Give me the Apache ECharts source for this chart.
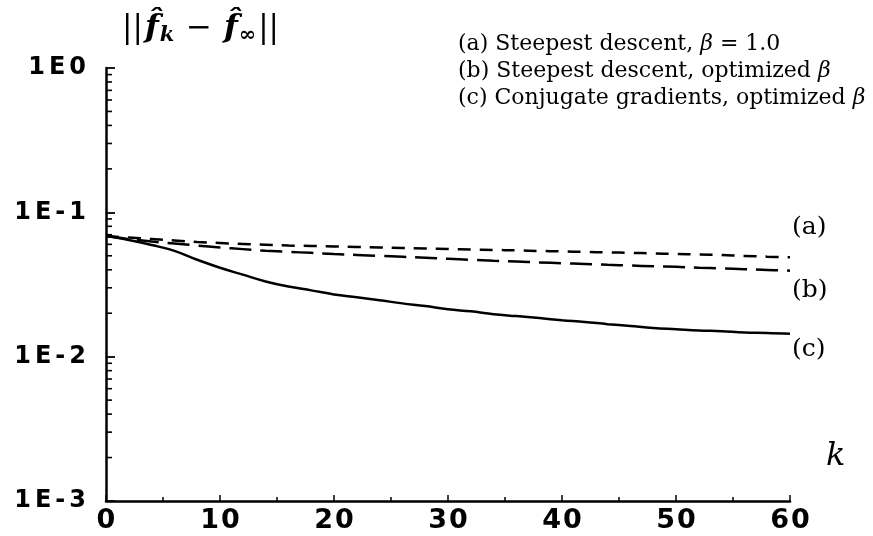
<!DOCTYPE html>
<html>
<head>
<meta charset="utf-8">
<script src="https://cdn.jsdelivr.net/npm/echarts@6/dist/echarts.min.js"></script>
<style>
  html, body { margin: 0; padding: 0; background: #fff; }
  #chart { width: 873px; height: 536px; }
</style>
</head>
<body>
<div id="chart"></div>
<script>
// iteration index k
const iterations = [0, 2, 4, 6, 8, 10, 12, 14, 16, 18, 20, 22, 24, 26, 28, 30,
  32, 34, 36, 38, 40, 42, 44, 46, 48, 50, 52, 54, 56, 58, 60];

// (a) steepest descent, beta = 1.0
const steepestFixed = [0.0685, 0.0669, 0.0653, 0.0638, 0.0623, 0.0613, 0.0604, 0.0596,
  0.0589, 0.0585, 0.0580, 0.0576, 0.0571, 0.0567, 0.0562, 0.0558, 0.0553, 0.0549,
  0.0545, 0.0540, 0.0536, 0.0532, 0.0528, 0.0524, 0.0520, 0.0515, 0.0511, 0.0506,
  0.0499, 0.0493, 0.0488];

// (b) steepest descent, optimized beta
const steepestOpt = [0.0685, 0.0653, 0.0628, 0.0608, 0.0589, 0.0571, 0.0556, 0.0542,
  0.0532, 0.0524, 0.0515, 0.0507, 0.0499, 0.0492, 0.0484, 0.0476, 0.0469, 0.0462,
  0.0456, 0.0450, 0.0444, 0.0439, 0.0433, 0.0428, 0.0423, 0.0419, 0.0413, 0.0409,
  0.0404, 0.0399, 0.0394];

// (c) conjugate gradients, optimized beta
const conjugateOpt = [0.0685, 0.0643, 0.0594, 0.0541, 0.0469, 0.0413, 0.0370, 0.0332,
  0.0306, 0.0288, 0.0270, 0.0258, 0.0246, 0.0234, 0.0224, 0.0213, 0.0206, 0.0197,
  0.0191, 0.0185, 0.0179, 0.0174, 0.0168, 0.0163, 0.0158, 0.0155, 0.0152, 0.0150,
  0.0147, 0.0146, 0.0144];

const seriesNames = [
  '(a) Steepest descent, β = 1.0',
  '(b) Steepest descent, optimized β',
  '(c) Conjugate gradients, optimized β'
];
const curveTags = ['(a)', '(b)', '(c)'];

// decade labels, bottom to top
const yDecadeLabels = ['1E-3', '1E-2', '1E-1', '1E0'];
// intermediate log ticks (2..9 within each decade)
const yMinorTicks = [0.002, 0.003, 0.004, 0.005, 0.006, 0.007, 0.008, 0.009,
  0.02, 0.03, 0.04, 0.05, 0.06, 0.07, 0.08, 0.09,
  0.2, 0.3, 0.4, 0.5, 0.6, 0.7, 0.8, 0.9];

const serif = '"DejaVu Serif", serif';
const boldSans = '"DejaVu Sans", sans-serif';

function pairs(values) {
  return iterations.map((k, i) => [k, values[i]]);
}

// spread the characters of a tick label apart
function spaced(text) {
  return text.split('').map(ch => '{c|' + ch + '}').join('');
}

function curve(name, values, tag, dash, labelOffset) {
  return {
    name: name,
    type: 'line',
    data: pairs(values),
    smooth: 0.4,
    symbol: 'none',
    silent: true,
    lineStyle: { color: '#000', width: 2.5, type: dash },
    endLabel: {
      show: true,
      formatter: tag,
      offset: labelOffset,
      color: '#000',
      fontFamily: serif,
      fontSize: 25
    }
  };
}

const chart = echarts.init(document.getElementById('chart'), null, { renderer: 'canvas' });

chart.setOption({
  backgroundColor: '#fff',
  animation: false,
  grid: { left: 106, right: 83, top: 68, bottom: 35 },
  legend: {
    orient: 'vertical',
    left: 448,
    top: 28,
    itemWidth: 0,
    itemHeight: 0,
    itemGap: 5,
    icon: 'none',
    selectedMode: false,
    data: seriesNames,
    formatter: name => name.replace('β', '{g|β}'),
    textStyle: {
      color: '#000',
      fontFamily: serif,
      fontSize: 22,
      rich: {
        g: { fontFamily: serif, fontStyle: 'italic', fontSize: 22, color: '#000' }
      }
    }
  },
  xAxis: {
    type: 'value',
    min: 0,
    max: 60,
    interval: 10,
    name: 'k',
    nameLocation: 'end',
    nameGap: 36,
    nameTextStyle: {
      fontFamily: serif,
      fontStyle: 'italic',
      fontSize: 32,
      color: '#000',
      verticalAlign: 'bottom',
      padding: [0, 0, 28, 0]
    },
    axisLine: { lineStyle: { color: '#000', width: 2.5 } },
    axisTick: { inside: true, length: 6, lineStyle: { color: '#000', width: 1.5 } },
    minorTick: { show: true, splitNumber: 2, length: 4, lineStyle: { color: '#000', width: 1.5 } },
    splitLine: { show: false },
    axisLabel: {
      color: '#000',
      fontFamily: boldSans,
      fontWeight: 'bold',
      fontSize: 27,
      margin: 6,
      formatter: v => spaced(String(v)),
      rich: {
        c: { fontFamily: boldSans, fontWeight: 'bold', fontSize: 27, color: '#000', padding: [0, 1, 0, 1] }
      }
    }
  },
  yAxis: {
    type: 'log',
    logBase: 10,
    min: 0.001,
    max: 1,
    name: '{n|||}{f|f̂}{s|k}{n| − }{f|f̂}{s|∞}{n|||}',
    nameLocation: 'end',
    nameGap: 22,
    nameTextStyle: {
      align: 'left',
      padding: [0, 0, 0, 16],
      rich: {
        n: { fontFamily: serif, fontSize: 31, color: '#000' },
        f: { fontFamily: serif, fontSize: 32, fontStyle: 'italic', fontWeight: 'bold', color: '#000', padding: [0, 1, 0, 2] },
        s: { fontFamily: serif, fontSize: 21, fontStyle: 'italic', fontWeight: 'bold', color: '#000', verticalAlign: 'bottom', padding: [14, 2, 0, 0] }
      }
    },
    axisLine: { show: true, lineStyle: { color: '#000', width: 2.5 } },
    axisTick: { inside: true, length: 9, lineStyle: { color: '#000', width: 1.8 } },
    splitLine: { show: false },
    axisLabel: {
      color: '#000',
      fontFamily: boldSans,
      fontWeight: 'bold',
      fontSize: 24,
      margin: 18,
      formatter: v => spaced(yDecadeLabels[Math.round(Math.log10(v)) + 3]),
      rich: {
        c: { fontFamily: boldSans, fontWeight: 'bold', fontSize: 24, color: '#000', padding: [0, 2, 0, 2] }
      }
    }
  },
  series: [
    curve(seriesNames[0], steepestFixed, curveTags[0], [13, 9], [-6, -30]),
    curve(seriesNames[1], steepestOpt, curveTags[1], [22, 9], [-6, 20]),
    curve(seriesNames[2], conjugateOpt, curveTags[2], 'solid', [-6, 16]),
    {
      // short log ticks along the vertical axis
      type: 'custom',
      silent: true,
      clip: false,
      data: yMinorTicks.map(v => [0, v]),
      renderItem: (params, api) => {
        const p = api.coord([api.value(0), api.value(1)]);
        return {
          type: 'line',
          shape: { x1: p[0], y1: p[1], x2: p[0] + 6, y2: p[1] },
          style: { stroke: '#000', lineWidth: 1.6 }
        };
      }
    }
  ]
});
</script>
</body>
</html>
